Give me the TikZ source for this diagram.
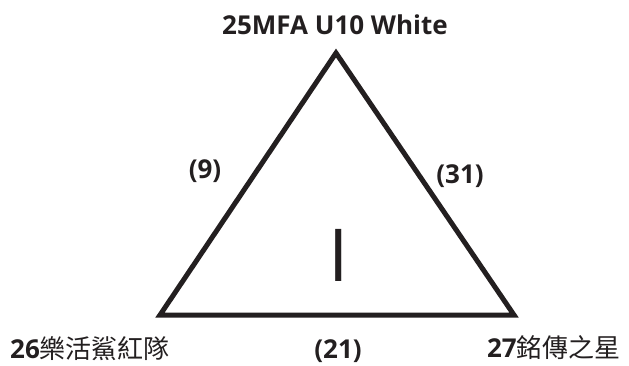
\documentclass[tikz,border=0pt]{standalone}
\usepackage{fontspec}
\setmainfont{Open Sans}
\newfontfamily\cjk{Noto Sans CJK TC}
\usepackage{xcolor}
\usepackage{tikz}
\usetikzlibrary{positioning}
\definecolor{inkgray}{RGB}{35,31,32}
\tikzset{
  side/.style  = {draw=inkgray, line width=5pt, line join=miter},
  lbl/.style   = {text=inkgray, font=\bfseries\fontsize{26}{30}\selectfont, inner sep=0pt, anchor=base},
  group/.style = {text=inkgray, font=\fontsize{73}{73}\selectfont, inner sep=0pt},
}
\begin{document}
\begin{tikzpicture}[x=1pt,y=1pt]
  \useasboundingbox (0,0) rectangle (629,365);
  \coordinate (top) at (336,312);
  \coordinate (left) at (160,50);
  \coordinate (right) at (514,50);
  \draw[side] (top) -- (left) -- (right) -- cycle;
  \node[lbl] (t25) at (335,330) {25MFA U10 White};
  \node[lbl, anchor=base west] (t26) at (10,7) {26{\cjk\mdseries 樂活鯊紅隊}};
  \node[lbl, anchor=base east] (t27) at (621,8) {27{\cjk\mdseries 銘傳之星}};
  \node[lbl] (w9) at (205,187) {(9)};
  \node[lbl] (w31) at (460,182) {(31)};
  \node[lbl] (w21) at (338,7) {(21)};
  \node[group] (grp) at (339,110) {I};
\end{tikzpicture}
\end{document}
